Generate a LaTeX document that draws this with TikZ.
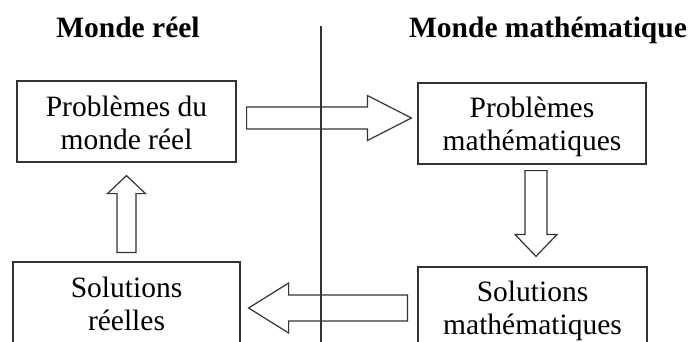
\documentclass[tikz,border=0pt]{standalone}
\usepackage{fontspec}
\setmainfont{Liberation Serif}
\usetikzlibrary{calc}

\newcommand\lig{\rule[-5.5pt]{0pt}{33pt}}

\begin{document}
\begin{tikzpicture}[x=1pt,y=1pt,
  boite/.style={draw=black!80,line width=1.2pt,fill=white,align=center,
    inner sep=0pt,minimum height=81pt,font=\fontsize{29.5}{33}\selectfont},
  titre/.style={anchor=base,font=\fontsize{29.5}{33}\selectfont\bfseries},
  fleche/.style={draw=black!80,line width=1.2pt,line join=miter,fill=white}]
  \clip (0,0) rectangle (692,-341);
  \node (mr) [titre] at (128,-37) {Monde réel};
  \node (mm) [titre] at (548,-37) {Monde mathématique};

  \node (pr) [boite,minimum width=219pt] at (126.5,-121.5) {\lig Problèmes du\\\lig monde réel};
  \node (mp) [boite,minimum width=228pt] at (532,-123.5) {\lig Problèmes\\\lig mathématiques};
  \node (sr) [boite,minimum width=227pt] at (126.5,-302.5) {\lig Solutions\\\lig réelles};
  \node (ms) [boite,minimum width=229pt] at (532.5,-307.5) {\lig Solutions\\\lig mathématiques};

  \path (node cs:name=pr,anchor=east) +(10,3.5) coordinate (pro) {};
  \path (node cs:name=mp,anchor=west) +(-6,5.5) coordinate (mpi) {};
  \draw[fleche] ($(pro)+(0,11)$) -- ($(mpi)+(-44,11)$) -- ($(mpi)+(-44,22.5)$) -- (mpi)
    -- ($(mpi)+(-44,-22.5)$) -- ($(mpi)+(-44,-11)$) -- ($(pro)+(0,-11)$) -- cycle;
  \path (node cs:name=mp,anchor=south) +(4,-6) coordinate (mpo) {};
  \path (node cs:name=ms,anchor=north) +(3.5,10) coordinate (msi) {};
  \draw[fleche] ($(mpo)+(-11,0)$) -- ($(msi)+(-11,22)$) -- ($(msi)+(-21,22)$) -- (msi)
    -- ($(msi)+(21,22)$) -- ($(msi)+(11,22)$) -- ($(mpo)+(11,0)$) -- cycle;
  \path (node cs:name=ms,anchor=west) +(-10,-0.5) coordinate (mso) {};
  \path (node cs:name=sr,anchor=east) +(8,-5.5) coordinate (sri) {};
  \draw[fleche] ($(mso)+(0,13)$) -- ($(sri)+(40,13)$) -- ($(sri)+(40,25)$) -- (sri)
    -- ($(sri)+(40,-25)$) -- ($(sri)+(40,-13)$) -- ($(mso)+(0,-13)$) -- cycle;
  \path (node cs:name=sr,anchor=north) +(0,9) coordinate (sro) {};
  \path (node cs:name=pr,anchor=south) +(0,-13) coordinate (pri) {};
  \draw[fleche] ($(sro)+(-9.5,0)$) -- ($(pri)+(-9.5,-18)$) -- ($(pri)+(-19,-18)$) -- (pri)
    -- ($(pri)+(19,-18)$) -- ($(pri)+(9.5,-18)$) -- ($(sro)+(9.5,0)$) -- cycle;

  \coordinate (sh) at (321,-26);
  \coordinate (sb) at (321,-345);
  \draw[draw=black!80,line width=1.2pt] (sh) -- (sb);
\end{tikzpicture}
\end{document}
